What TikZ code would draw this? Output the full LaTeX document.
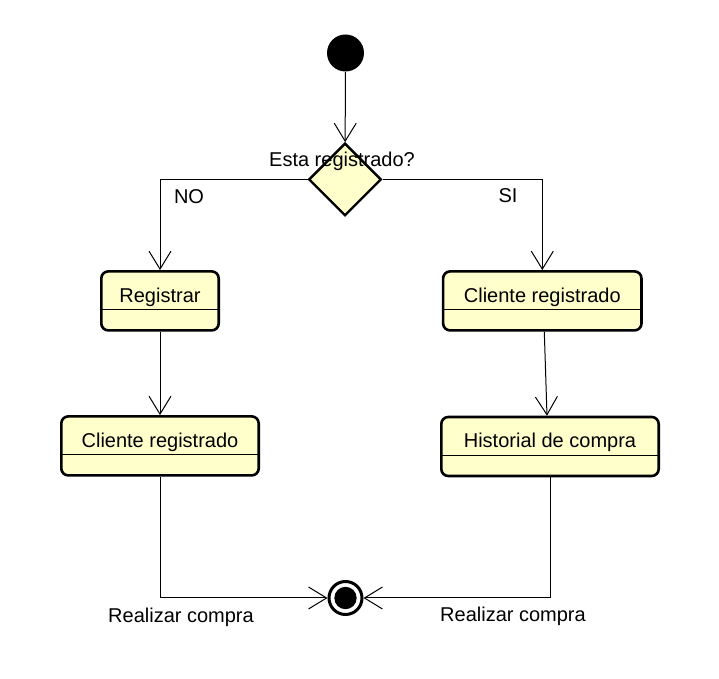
\documentclass[tikz,border=0pt]{standalone}
\usepackage{fontspec}
\setmainfont{Liberation Sans}
\usetikzlibrary{shapes.geometric,arrows.meta}
\definecolor{amarillo}{HTML}{FFFFCC}

\begin{document}
\begin{tikzpicture}[x=0.5pt, y=-0.5pt,
		flecha/.style={-{Straight Barb[length=9pt,width=11pt]}, line width=0.5pt},
		estado/.style={draw, fill=amarillo, line width=1.3pt, rounded corners=3.5pt, inner xsep=0pt, inner ysep=4pt, text height=11.45pt, text depth=10.05pt,
			path picture={\draw[line width=0.5pt] ([yshift=10.2pt]path picture bounding box.south west) -- ([yshift=10.2pt]path picture bounding box.south east);}},
		decision/.style={diamond, draw, fill=amarillo, line width=1.2pt, minimum width=36.3pt, minimum height=36.3pt, aspect=1, inner sep=0pt}]
		\useasboundingbox (0,0) rectangle (719,679);
		
		\node[circle, fill=black, minimum size=18.5pt, inner sep=0pt] (inicio) at (345.5, 53) {};
		\node[decision] (pregunta) at (345, 179.5) {};
		
		\node[estado, minimum width=58.7pt] (registrar) at (160, 300.9) {Registrar};
		\node[estado, minimum width=98.7pt] (clienteA) at (160, 445.9) {Cliente registrado};
		
		\node[estado, minimum width=99.2pt] (clienteB) at (542.3, 300.9) {Cliente registrado};
		\node[estado, minimum width=108.7pt] (historial) at (550, 446.5) {Historial de compra};
		
		\node[circle, draw, fill=white, line width=1.5pt, minimum size=16.5pt, inner sep=0pt,
			path picture={\fill[black] (path picture bounding box.center) circle (5.6pt);}] (fin) at (345.5, 598) {};
		
		\node[anchor=base] (txtpregunta) at (342, 166.5) {Esta registrado?};
		\node[anchor=base] (txtno) at (189, 204) {NO};
		\node[anchor=base] (txtsi) at (508, 203) {SI};
		\node[anchor=base] (txtcompraA) at (181, 623) {Realizar compra};
		\node[anchor=base] (txtcompraB) at (513, 621.5) {Realizar compra};
		
		\draw[flecha] (inicio) -- (pregunta);
		\draw[flecha] (pregunta.west) -| (registrar.north);
		\draw[flecha] (pregunta.east) -| (clienteB.north);
		
		\draw[flecha] (registrar) -- (clienteA);
		\draw[flecha] ([xshift=1pt]clienteB.south) -- ([xshift=-1.5pt]historial.north);
		
		\draw[flecha] (clienteA.south) |- (fin.west);
		\draw[flecha] (historial.south) |- (fin.east);
	\end{tikzpicture}
\end{document}
